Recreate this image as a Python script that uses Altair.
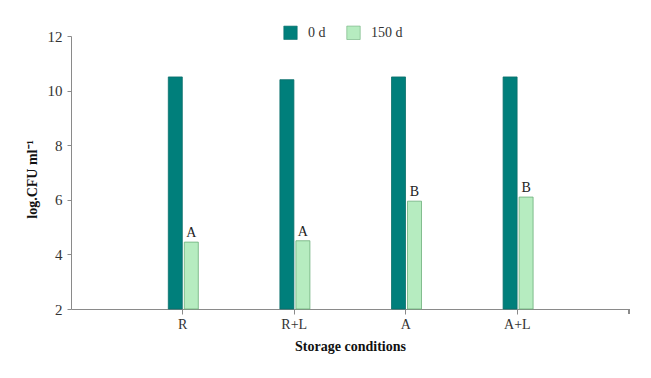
import altair as alt
import pandas as pd

conditions = ["R", "R+L", "A", "A+L"]
series = ["0 d", "150 d"]
day0 = [10.5, 10.4, 10.5, 10.5]
day150 = [4.45, 4.5, 5.95, 6.1]
letters = ["A", "A", "B", "B"]
y_ticks = [2, 4, 6, 8, 10, 12]

rows = []
for c, v0, v1, l in zip(conditions, day0, day150, letters):
    rows.append({"cond": c, "series": series[0], "value": v0, "letter": ""})
    rows.append({"cond": c, "series": series[1], "value": v1, "letter": l})
df = pd.DataFrame(rows)

FONT = "Liberation Serif"
AXIS_C = "#8a8a8a"

x_enc = alt.X("cond:N", sort=conditions,
              scale=alt.Scale(paddingInner=0, paddingOuter=0.5),
              axis=alt.Axis(title="Storage conditions", labelAngle=0, tickSize=5,
                            labelPadding=3, domainColor=AXIS_C, tickColor=AXIS_C,
                            labelFont=FONT, labelFontSize=14, labelColor="#333333",
                            titleFont=FONT, titleFontSize=14, titleFontWeight="bold",
                            titleColor="#111111", titleY=37, titleBaseline="middle"))
xo_enc = alt.XOffset("series:N", sort=series,
                     scale=alt.Scale(range=[41.5, 71.5], paddingInner=0.125, paddingOuter=0))
y_scale = alt.Scale(domain=[2, 12], nice=False, zero=False)

bars = alt.Chart(df).mark_bar(strokeWidth=0.8).encode(
    x=x_enc,
    xOffset=xo_enc,
    y=alt.Y("value:Q", scale=y_scale,
            axis=alt.Axis(values=y_ticks, title="log.CFU ml⁻¹", grid=False, tickSize=4,
                          labelPadding=5, domainColor=AXIS_C, tickColor=AXIS_C,
                          labelFont=FONT, labelFontSize=15, labelColor="#333333",
                          titleFont=FONT, titleFontSize=14, titleFontWeight="bold",
                          titleColor="#111111", titleX=-39, titleY=143,
                          titleBaseline="middle")),
    y2=alt.datum(2),
    color=alt.Color("series:N", sort=series,
                    scale=alt.Scale(domain=series, range=["#007f7b", "#b6ecc0"]),
                    legend=alt.Legend(orient="none", legendX=212, legendY=-11,
                                      direction="horizontal", title=None,
                                      symbolType="square", symbolSize=180,
                                      symbolStrokeColor="#5f9f70", symbolStrokeWidth=0.6,
                                      labelFont=FONT, labelFontSize=14,
                                      labelColor="#333333", labelOffset=10,
                                      columnPadding=19)),
    stroke=alt.Stroke("series:N", sort=series,
                      scale=alt.Scale(domain=series, range=["#0a6f6b", "#6cae7a"]),
                      legend=None),
)

labels = alt.Chart(df).transform_filter(alt.datum.letter != "").mark_text(
    dy=-9, font=FONT, fontSize=14, color="#222222"
).encode(
    x=alt.X("cond:N", sort=conditions),
    xOffset=alt.XOffset("series:N", sort=series),
    y=alt.Y("value:Q", scale=y_scale),
    text="letter:N",
)

end_tick = alt.Chart(df).mark_rule(color=AXIS_C).encode(
    x=alt.value(558), y=alt.value(273), y2=alt.value(278)
)

chart = alt.layer(bars, labels, end_tick).properties(
    width=558, height=273,
    padding={"left": 71, "top": 36, "right": 22, "bottom": 69},
    autosize=alt.AutoSizeParams(type="none"),
).configure(background="white").configure_view(strokeWidth=0, stroke="transparent")

chart.save("out.html", embed_options={"renderer": "svg", "actions": False})
